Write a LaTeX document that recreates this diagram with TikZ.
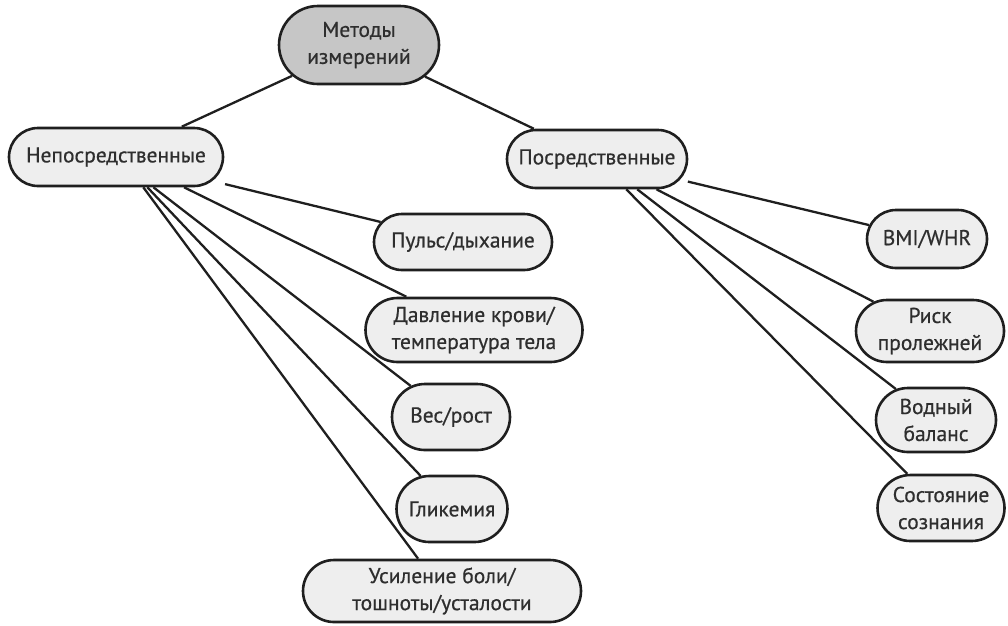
\documentclass[tikz,border=0pt]{standalone}
\usepackage{fontspec}
\setmainfont{PT Sans}
\newfontfamily\diagfont{PT Sans}[FakeBold=0.6]
\usetikzlibrary{shapes.misc}
\begin{document}
\begin{tikzpicture}[x=1pt,y=-1pt,
  box/.style={rounded rectangle, draw=black!88, line width=2.6pt, fill=gray!13,
    text=black!82, font=\diagfont\fontsize{21.5}{27}\selectfont, align=center, inner sep=1pt},
  topbox/.style={box, fill=gray!45},
  link/.style={line width=2.3pt, draw=black!88}]
\useasboundingbox (0,0) rectangle (1008,625);
\node[topbox, minimum width=162pt, minimum height=78pt] (top) at (359,45) {Методы\\измерений};
\node[box, minimum width=216pt, minimum height=58pt] (nep) at (116,157) {Непосредственные};
\node[box, minimum width=182pt, minimum height=58pt] (pos) at (597,159) {Посредственные};
\node[box, minimum width=180pt, minimum height=56pt] (puls) at (463,242) {Пульс/дыхание};
\node[box, minimum width=219pt, minimum height=64pt] (davl) at (474,330) {Давление крови/\\температура тела};
\node[box, minimum width=120pt, minimum height=66pt] (ves) at (451,417) {Вес/рост};
\node[box, minimum width=113pt, minimum height=66pt] (glik) at (452,509) {Гликемия};
\node[box, minimum width=280pt, minimum height=62pt] (usil) at (442,591) {Усиление боли/\\тошноты/усталости};
\node[box, minimum width=122pt, minimum height=58pt] (bmi) at (927,239) {BMI/WHR};
\node[box, minimum width=150pt, minimum height=62pt] (risk) at (930,331) {Риск\\пролежней};
\node[box, minimum width=122pt, minimum height=64pt] (vodn) at (936,420) {Водный\\баланс};
\node[box, minimum width=129pt, minimum height=66pt] (sost) at (941,508) {Состояние\\сознания};
\draw[link] (top) -- (nep);
\draw[link] (top) -- (pos);
\draw[link, shorten <=13pt] (nep.-14) -- (puls);
\draw[link] (nep.-24) -- (davl);
\draw[link] (nep.-39) -- (ves);
\draw[link] (nep.-44) -- (glik);
\draw[link] (nep.-48) -- (usil);
\draw[link, shorten <=8pt] (pos.-14.5) -- (bmi);
\draw[link] (pos.-27) -- (risk);
\draw[link] (pos.-37) -- (vodn);
\draw[link] (pos.-46) -- (sost);
\end{tikzpicture}
\end{document}
